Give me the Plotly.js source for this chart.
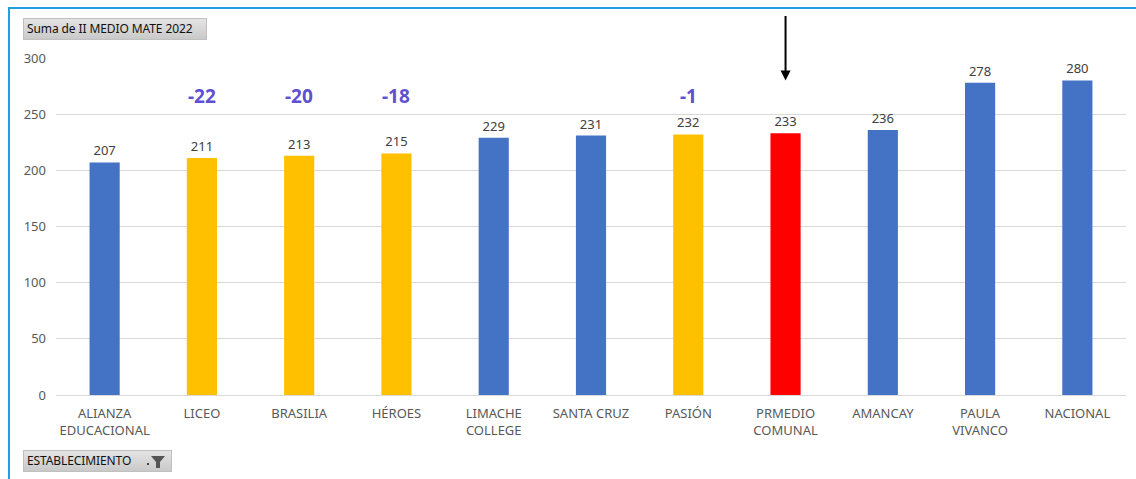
<!DOCTYPE html>
<html>
<head>
<meta charset="utf-8">
<script src="https://cdn.plot.ly/plotly-3.0.1.min.js"></script>
<style>
  html, body { margin:0; padding:0; background:#fff; }
  #wrap { position:relative; width:1136px; height:479px; overflow:hidden; }
  #chart { position:absolute; left:0; top:0; width:1136px; height:479px; }
  #frame { position:absolute; left:8px; top:7px; width:1140px; height:480px;
           border-left:2px solid #1fa0e2; border-top:2px solid #1fa0e2; pointer-events:none; }
  .btn { position:absolute; font-family:"Noto Sans", "DejaVu Sans", sans-serif; font-size:12px; color:#111;
         background:linear-gradient(#e4e4e4, #c9c9c9); border:1px solid #c0c0c0; box-sizing:border-box;
         line-height:20px; padding-left:3px; white-space:nowrap; letter-spacing:-0.1px; }
</style>
</head>
<body>
<div id="wrap">
  <div id="chart"></div>
  <div id="frame"></div>
  <div class="btn" style="left:23px; top:18px; width:184px; height:22px;">Suma de II MEDIO MATE 2022</div>
  <div class="btn" style="left:23px; top:450px; width:149px; height:22px;">ESTABLECIMIENTO
    <svg width="22" height="14" viewBox="0 0 22 14" style="position:absolute; right:4px; top:4px;">
      <rect x="2" y="8" width="2" height="2" fill="#444"/>
      <polygon points="6,1 20,1 15,7 15,13 11,13 11,7" fill="#555"/>
    </svg>
  </div>
</div>
<script>
const categories = ["ALIANZA<br>EDUCACIONAL", "LICEO", "BRASILIA", "HÉROES", "LIMACHE<br>COLLEGE",
                    "SANTA CRUZ", "PASIÓN", "PRMEDIO<br>COMUNAL", "AMANCAY", "PAULA<br>VIVANCO", "NACIONAL"];
const values = [207, 211, 213, 215, 229, 231, 232, 233, 236, 278, 280];
const barColors = ["#4472C4", "#FFC000", "#FFC000", "#FFC000", "#4472C4", "#4472C4",
                   "#FFC000", "#FF0000", "#4472C4", "#4472C4", "#4472C4"];
const gapCategories = ["LICEO", "BRASILIA", "HÉROES", "PASIÓN"];
const gapLabels = ["-22", "-20", "-18", "-1"];
const gapLevel = 266;
const arrowCategory = "PRMEDIO<br>COMUNAL";
const arrowTipValue = 280;
const yTicks = [0, 50, 100, 150, 200, 250, 300];

const font = "Noto Sans, DejaVu Sans, sans-serif";

const trace = {
  type: "bar",
  x: categories,
  y: values,
  marker: { color: barColors },
  width: 0.31,
  text: values.map(String),
  textposition: "outside",
  textfont: { family: font, size: 13, color: "#404040" },
  cliponaxis: false,
  hoverinfo: "x+y"
};

const annotations = gapCategories.map((c, i) => ({
  x: c, y: gapLevel, xref: "x", yref: "y",
  text: gapLabels[i], showarrow: false,
  font: { family: font, size: 19, color: "#5f4fd1", weight: "bold" }
}));
annotations.push({
  x: arrowCategory, y: arrowTipValue, xref: "x", yref: "y",
  text: "", showarrow: true, ax: 0, ay: -66,
  arrowhead: 2, arrowsize: 1, arrowwidth: 2, arrowcolor: "#000"
});

const layout = {
  width: 1136, height: 479,
  margin: { l: 56, r: 10, t: 58, b: 84 },
  paper_bgcolor: "rgba(0,0,0,0)",
  plot_bgcolor: "#fff",
  showlegend: false,
  font: { family: font, size: 12, color: "#595959" },
  xaxis: {
    type: "category",
    tickfont: { family: font, size: 13, color: "#595959" },
    showgrid: false, zeroline: false, showline: false,
    ticks: "", ticklabelstandoff: 9, fixedrange: true
  },
  yaxis: {
    range: [0, 300],
    tickvals: yTicks,
    tickfont: { family: font, size: 13, color: "#595959" },
    showgrid: true, gridcolor: "#d9d9d9", gridwidth: 1,
    zeroline: true, zerolinecolor: "#d9d9d9", zerolinewidth: 1,
    showline: false, ticks: "", ticklabelstandoff: 9, fixedrange: true
  },
  annotations: annotations,
  bargap: 0.69
};

Plotly.newPlot("chart", [trace], layout, { displayModeBar: false, staticPlot: true });
</script>
</body>
</html>
